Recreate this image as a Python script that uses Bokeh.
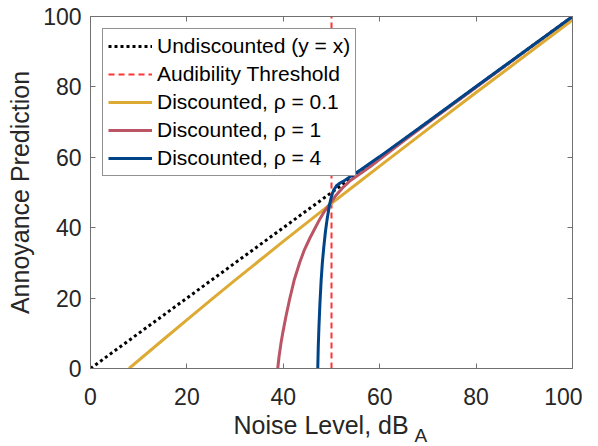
from bokeh.plotting import figure
from bokeh.models import Range1d, LinearAxis, FixedTicker, Legend, LegendItem, Title
from bokeh.embed import file_html
from bokeh.resources import INLINE

# ---- data ----
ticks = [0, 20, 40, 60, 80, 100]

undisc_x = [0, 100]
undisc_y = [0, 100]

thresh_x = [50, 50]
thresh_y = [0, 100]

rho01_x = [8, 15, 20, 25, 30, 35, 40, 45, 50, 55, 60, 70, 80, 90, 100]
rho01_y = [0, 8.1, 13.8, 19.5, 25.1, 30.6, 36.1, 41.5, 46.9, 52.2, 57.5, 68.0, 78.4, 88.7, 99.0]

rho1_x = [38.85, 39.1, 39.5, 39.9, 40.5, 41.3, 42.3, 43.4, 44.4, 45.5, 46.6, 47.6, 48.6, 49.6,
          51.0, 52.5, 54.0, 56.0, 58.0, 60.0, 65.0, 70.0, 80.0, 90.0, 100.0]
rho1_y = [0, 3.2, 7.0, 10.2, 14.5, 19.6, 25.3, 30.1, 33.8, 37.0, 39.9, 42.5, 44.8, 46.6,
          49.3, 51.6, 53.5, 55.4, 57.3, 59.4, 64.7, 69.8, 79.9, 89.95, 100.0]

rho4_x = [47.15, 47.25, 47.4, 47.6, 47.85, 48.1, 48.4, 48.75, 49.1, 49.6, 49.9, 50.2, 50.6,
          51.1, 51.8, 52.8, 54.0, 56.0, 60.0, 70.0, 80.0, 90.0, 100.0]
rho4_y = [0, 6.0, 12.0, 18.5, 25.0, 30.0, 34.5, 39.0, 42.5, 46.6, 48.4, 49.8, 51.0,
          52.0, 52.7, 53.5, 54.6, 56.4, 60.2, 70.1, 80.1, 90.05, 100.0]

labels = ["Undiscounted (y = x)", "Audibility Threshold",
          "Discounted, \u03c1 = 0.1", "Discounted, \u03c1 = 1", "Discounted, \u03c1 = 4"]

FONT = "Liberation Sans"
TXT = "#262626"
AX = "#707070"

p = figure(width=582, height=445,
           x_range=Range1d(0, 100), y_range=Range1d(0, 100),
           output_backend="svg", toolbar_location=None,
           min_border_left=90, min_border_top=16, min_border_right=10, min_border_bottom=77,
           background_fill_color="white", border_fill_color="white")
p.grid.visible = False
p.outline_line_color = AX
p.outline_line_width = 1

for ax in (p.xaxis[0], p.yaxis[0]):
    ax.ticker = FixedTicker(ticks=ticks)
    ax.major_tick_in = 5
    ax.major_tick_out = 0
    ax.minor_tick_in = 0
    ax.minor_tick_out = 0
    ax.axis_line_color = AX
    ax.major_tick_line_color = AX
    ax.major_label_text_font = FONT
    ax.major_label_text_font_size = "23px"
    ax.major_label_text_color = TXT

p.xaxis.major_label_standoff = 19
p.yaxis.major_label_standoff = 9
p.yaxis.axis_label = "Annoyance Prediction"
p.yaxis.axis_label_text_font = FONT
p.yaxis.axis_label_text_font_size = "25px"
p.yaxis.axis_label_text_font_style = "normal"
p.yaxis.axis_label_text_color = TXT
p.yaxis.axis_label_standoff = 6

p.xaxis.axis_label = "Noise Level, dB\u00a0\u00a0\u00a0"
p.xaxis.axis_label_text_font = FONT
p.xaxis.axis_label_text_font_size = "25px"
p.xaxis.axis_label_text_font_style = "normal"
p.xaxis.axis_label_text_color = TXT
p.xaxis.axis_label_standoff = 3

for place in ("above", "right"):
    a = LinearAxis(ticker=FixedTicker(ticks=ticks), major_tick_in=5, major_tick_out=0,
                   minor_tick_in=0, minor_tick_out=0, axis_line_color=AX,
                   major_tick_line_color=AX, major_label_standoff=0,
                   major_label_overrides={t: "" for t in ticks})
    p.add_layout(a, place)

r0 = p.line(undisc_x, undisc_y, line_color="black", line_width=3, line_dash="3 3")
r1 = p.line(thresh_x, thresh_y, line_color="#ff3333", line_width=2, line_dash="6 4")
r2 = p.line(rho01_x, rho01_y, line_color="#DDAA33", line_width=3)
r3 = p.line(rho1_x, rho1_y, line_color="#BB5566", line_width=3)
r4 = p.line(rho4_x, rho4_y, line_color="#004488", line_width=3)

items = [LegendItem(label=l, renderers=[r]) for l, r in zip(labels, [r0, r1, r2, r3, r4])]
legend = Legend(items=items, location="top_left", margin=12, padding=5, spacing=4,
                glyph_width=44, glyph_height=24, label_height=24, label_standoff=5,
                label_text_font=FONT, label_text_font_size="21px", label_text_color="black",
                border_line_color="#262626", border_line_width=1,
                background_fill_color="white", background_fill_alpha=1)
p.add_layout(legend)

# subscript "A" of dB_A
sub = Title(text="A", align="left", offset=324, standoff=-34, vertical_align="top",
            text_font=FONT, text_font_size="19px", text_font_style="normal", text_color=TXT)
p.add_layout(sub, "below")

open("out.html", "w").write(file_html(p, INLINE))
